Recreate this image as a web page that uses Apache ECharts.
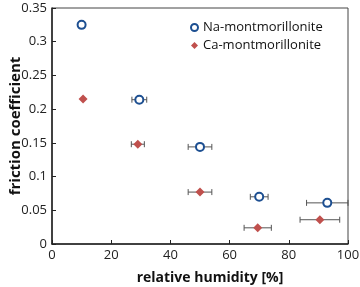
<!DOCTYPE html>
<html>
<head>
<meta charset="utf-8">
<script src="https://cdn.jsdelivr.net/npm/echarts@6/dist/echarts.min.js"></script>
<style>
html,body{margin:0;padding:0;background:#fff;}
#chart{width:360px;height:287px;}
</style>
</head>
<body>
<div id="chart"></div>
<script>
/*数据*/
var humidityNa=[10,29.5,50,70,93];
var frictionNa=[0.325,0.214,0.144,0.070,0.061];
var errNa=[0,2.5,4,3,7];      //x方向误差
var humidityCa=[10.5,29,50,69.5,90.5];
var frictionCa=[0.215,0.148,0.077,0.024,0.036];
var errCa=[0,2.2,4,4.6,6.7];

var fontName="Open Sans";

function pts(xs,ys){
    var a=[];
    for(var i=0;i<xs.length;i++){a.push([xs[i],ys[i]]);}
    return a;
}
function errs(xs,ys,es){
    var a=[];
    for(var i=0;i<xs.length;i++){
        if(es[i]>0){a.push([xs[i],ys[i],xs[i]-es[i],xs[i]+es[i]]);}
    }
    return a;
}

/*横向误差棒*/
function renderErr(params,api){
    var y=api.value(1);
    var p1=api.coord([api.value(2),y]);
    var p2=api.coord([api.value(3),y]);
    var cap=3;
    var st={stroke:"#555",lineWidth:1};
    return {
        type:"group",
        children:[
            {type:"line",shape:{x1:p1[0],y1:p1[1],x2:p2[0],y2:p2[1]},style:st},
            {type:"line",shape:{x1:p1[0],y1:p1[1]-cap,x2:p1[0],y2:p1[1]+cap},style:st},
            {type:"line",shape:{x1:p2[0],y1:p2[1]-cap,x2:p2[0],y2:p2[1]+cap},style:st}
        ]
    };
}

var naStyle={color:"#fff",borderColor:"#1d4f91",borderWidth:2,opacity:1};
var caStyle={color:"#c0504d",opacity:1};

var myChart=echarts.init(document.getElementById("chart"),null,{renderer:"canvas"});
myChart.setOption({
    animation:false,
    grid:{left:52,right:12,top:8,bottom:43,outerBoundsMode:"none",containLabel:false,
        show:true,borderColor:"#444",borderWidth:1},
    legend:{
        orient:"vertical",left:185,top:16,itemGap:5,itemWidth:7,itemHeight:7,
        textStyle:{fontFamily:fontName,fontSize:13,color:"#111",padding:[0,0,0,0]},
        data:[
            {name:"Na-montmorillonite",icon:"circle",itemStyle:{color:"#fff",borderColor:"#1d4f91",borderWidth:2}},
            {name:"Ca-montmorillonite",icon:"diamond",itemStyle:{color:"#c0504d",borderWidth:0}}
        ]
    },
    xAxis:{
        type:"value",min:0,max:100,interval:20,
        name:"relative humidity [%]",nameLocation:"middle",nameGap:27,nameMoveOverlap:false,
        nameTextStyle:{fontFamily:fontName,fontSize:14,fontWeight:"bold",color:"#111",padding:[0,0,0,20]},
        axisLine:{lineStyle:{color:"#222",width:1.5}},
        axisTick:{inside:true,length:4,lineStyle:{color:"#222"}},
        axisLabel:{fontFamily:fontName,fontSize:13,color:"#222",margin:5},
        splitLine:{show:false}
    },
    yAxis:{
        type:"value",min:0,max:0.35,interval:0.05,
        name:"friction coefficient",nameLocation:"middle",nameGap:29,nameMoveOverlap:false,
        nameTextStyle:{fontFamily:fontName,fontSize:15,fontWeight:"bold",color:"#111"},
        axisLine:{show:true,lineStyle:{color:"#222",width:1.5}},
        axisTick:{show:true,inside:true,length:4,lineStyle:{color:"#222"}},
        axisLabel:{fontFamily:fontName,fontSize:13,color:"#222",margin:5,
            formatter:function(v){return String(+v.toFixed(2));}},
        splitLine:{show:false}
    },
    series:[
        {type:"custom",renderItem:renderErr,data:errs(humidityNa,frictionNa,errNa),z:1,silent:true},
        {type:"custom",renderItem:renderErr,data:errs(humidityCa,frictionCa,errCa),z:1,silent:true},
        {
            name:"Na-montmorillonite",type:"scatter",symbol:"circle",symbolSize:8,z:3,
            itemStyle:naStyle,
            data:pts(humidityNa,frictionNa)
        },
        {
            name:"Ca-montmorillonite",type:"scatter",symbol:"diamond",symbolSize:9,z:3,
            itemStyle:caStyle,
            data:pts(humidityCa,frictionCa)
        }
    ]
});
</script>
</body>
</html>
